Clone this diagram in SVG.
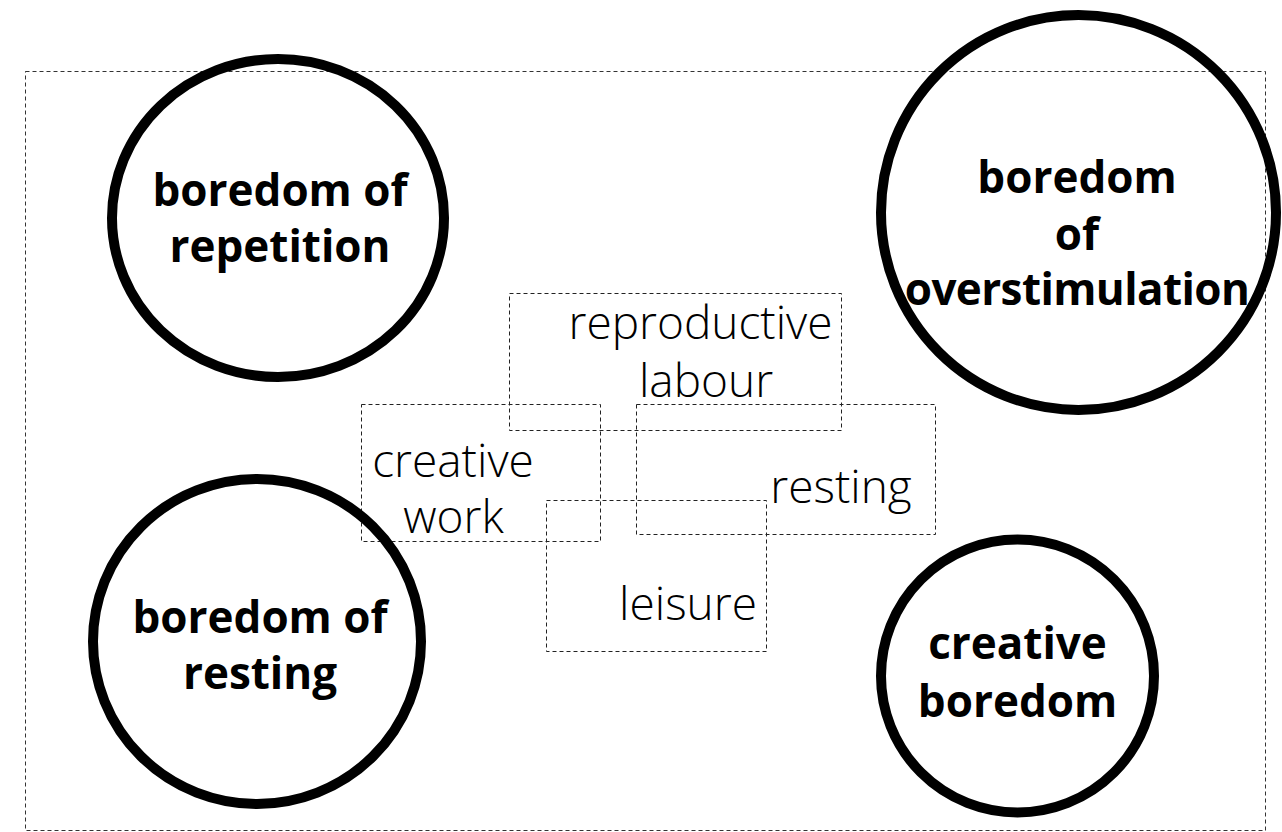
<svg xmlns="http://www.w3.org/2000/svg" width="1282" height="832" viewBox="0 0 1282 832">
<style>
.frame{fill:none;stroke:#333;stroke-width:1;stroke-dasharray:4 3}
.box{fill:none;stroke:#222;stroke-width:1;stroke-dasharray:4 3}
.ring{fill:none;stroke:#000;stroke-width:10}
.big{font-family:"Open Sans","Liberation Sans",sans-serif;font-weight:700;font-size:44px;fill:#000;text-anchor:middle}
.thin{font-family:"Open Sans","Liberation Sans",sans-serif;font-weight:300;font-size:46px;fill:#000;text-anchor:middle}
</style>
<rect x="0" y="0" width="1282" height="832" fill="#fff"/>
<rect id="frame" class="frame" x="25.5" y="71.5" width="1240" height="759"/>
<g id="connectors"></g>
<g id="box-reproductive-labour">
<rect class="box" x="509.5" y="293.5" width="332" height="137"/>
<text class="thin" x="700.5" y="339">reproductive</text>
<text class="thin" x="706" y="397">labour</text>
</g>
<g id="box-creative-work">
<rect class="box" x="361.5" y="404.5" width="239" height="137"/>
<text class="thin" x="453" y="477">creative</text>
<text class="thin" x="453.5" y="533">work</text>
</g>
<g id="box-resting">
<rect class="box" x="636.5" y="404.5" width="299" height="130"/>
<text class="thin" x="841" y="503">resting</text>
</g>
<g id="box-leisure">
<rect class="box" x="546.5" y="500.5" width="220" height="151"/>
<text class="thin" x="688" y="620">leisure</text>
</g>
<g id="circle-repetition">
<ellipse class="ring" cx="278" cy="218" rx="166" ry="159"/>
<text class="big" x="280" y="206">boredom of</text>
<text class="big" x="280" y="262">repetition</text>
</g>
<g id="circle-overstimulation">
<circle class="ring" cx="1078.5" cy="212.5" r="197.5"/>
<text class="big" x="1077" y="193">boredom</text>
<text class="big" x="1077" y="250">of</text>
<text class="big" x="1077" y="305" letter-spacing="-0.6">overstimulation</text>
</g>
<g id="circle-resting">
<ellipse class="ring" cx="257" cy="641.5" rx="164" ry="162.5"/>
<text class="big" x="260" y="633">boredom of</text>
<text class="big" x="260" y="689">resting</text>
</g>
<g id="circle-creative">
<circle class="ring" cx="1017.5" cy="676" r="136.5"/>
<text class="big" x="1017.5" y="659">creative</text>
<text class="big" x="1017.5" y="717">boredom</text>
</g>
</svg>
